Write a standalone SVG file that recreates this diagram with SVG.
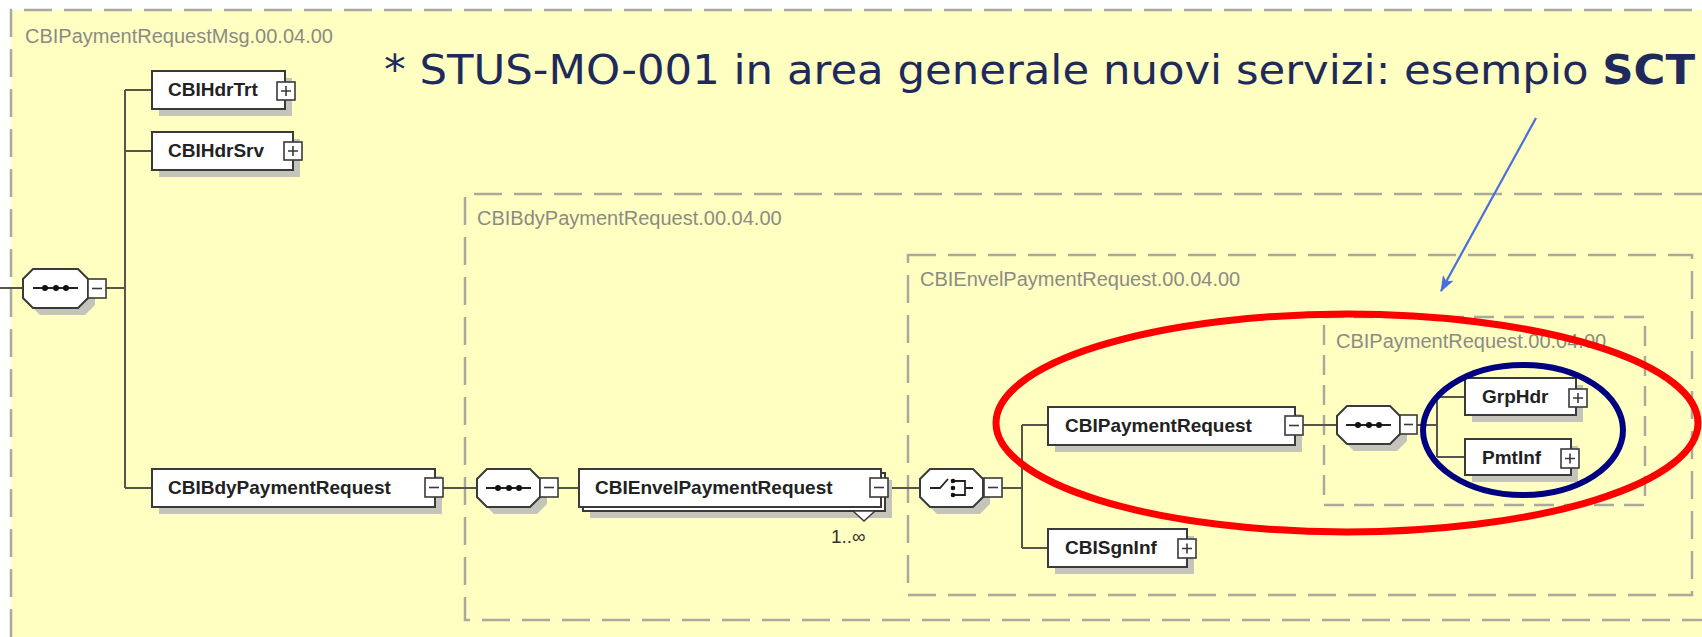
<svg xmlns="http://www.w3.org/2000/svg" width="1702" height="637" viewBox="0 0 1702 637">
<defs>
<style>
.bx{fill:#fff;stroke:#3a3a3a;stroke-width:2}
.sh{fill:#c4c4bb}
.ex{fill:#fff;stroke:#3a3a3a;stroke-width:1.6}
.el{stroke:#3a3a3a;stroke-width:1.6;fill:none}
.nt{font-family:"Liberation Sans",Arial,sans-serif;font-weight:bold;font-size:19px;fill:#222}
.fr{fill:none;stroke:#aba99e;stroke-width:2.5;stroke-dasharray:28 12}
.fr2{fill:none;stroke:#aba99e;stroke-width:2.5;stroke-dasharray:20 10}
.fl{font-family:"Liberation Sans",Arial,sans-serif;font-size:20px;fill:#8b8b85}
.cn{stroke:#55554a;stroke-width:2;fill:none}
.gl{stroke:#222;stroke-width:1.8;fill:none}
.dot{fill:#111}
</style>
<marker id="ah" viewBox="0 0 16 12" refX="15" refY="6" markerWidth="16" markerHeight="12" orient="auto" markerUnits="userSpaceOnUse">
<path d="M0,0 L16,6 L0,12 L4,6 z" fill="#4a6fdc"/>
</marker>
</defs>
<rect x="0" y="0" width="1702" height="637" fill="#ffffff"/>
<rect x="11" y="10" width="1691" height="627" fill="#ffffc1"/>

<g id="frames">
<path class="fr" d="M11,637 V10 H1702"/>
<text class="fl" x="25" y="43">CBIPaymentRequestMsg.00.04.00</text>
<path class="fr" d="M1702,194 H465 V620 H1702"/>
<text class="fl" x="477" y="225">CBIBdyPaymentRequest.00.04.00</text>
<rect class="fr" x="908" y="255" width="784" height="340"/>
<text class="fl" x="920" y="286">CBIEnvelPaymentRequest.00.04.00</text>
<rect class="fr2" x="1324" y="317" width="321" height="188"/>
<text class="fl" x="1336" y="348">CBIPaymentRequest.00.04.00</text>
</g>

<g id="connectors">
<path class="cn" d="M0,288 H23"/>
<path class="cn" d="M106,288 H125"/>
<path class="cn" d="M125,90 V488"/>
<path class="cn" d="M125,90 H152 M125,151 H152 M125,488 H152"/>
<path class="cn" d="M443,488 H477"/>
<path class="cn" d="M558,488 H579"/>
<path class="cn" d="M888,488 H920"/>
<path class="cn" d="M1002,488 H1022 M1022,425 V548 M1022,425 H1048 M1022,548 H1048"/>
<path class="cn" d="M1303,425 H1337"/>
<path class="cn" d="M1417,425 H1437 M1437,397 V457 M1437,397 H1465 M1437,457 H1465"/>
</g>

<g id="seq1">
<polygon class="sh" points="40,276 85,276 95,286 95,305 85,315 40,315 30,305 30,286"/>
<polygon class="bx" points="33,269 78,269 88,279 88,298 78,308 33,308 23,298 23,279"/>
<path class="gl" d="M33,288 H78"/>
<circle class="dot" cx="45" cy="288" r="3"/><circle class="dot" cx="56" cy="288" r="3"/><circle class="dot" cx="66" cy="288" r="3"/>
<rect class="ex" x="88" y="279" width="18" height="19"/><path class="el" d="M92,288.5 H102"/>
</g>

<g id="CBIHdrTrt">
<rect class="sh" x="159" y="78" width="133" height="38"/>
<rect class="bx" x="152" y="71" width="133" height="38"/>
<text class="nt" x="168" y="96">CBIHdrTrt</text>
<rect class="ex" x="277" y="82" width="18" height="18"/><path class="el" d="M281,91 H291 M286,86 V96"/>
</g>

<g id="CBIHdrSrv">
<rect class="sh" x="159" y="139" width="141" height="38"/>
<rect class="bx" x="152" y="132" width="141" height="38"/>
<text class="nt" x="168" y="157">CBIHdrSrv</text>
<rect class="ex" x="284" y="142" width="18" height="18"/><path class="el" d="M288,151 H298 M293,146 V156"/>
</g>

<g id="CBIBdyPaymentRequest">
<rect class="sh" x="159" y="476" width="283" height="38"/>
<rect class="bx" x="152" y="469" width="283" height="38"/>
<text class="nt" x="168" y="494">CBIBdyPaymentRequest</text>
<rect class="ex" x="425" y="478" width="18" height="19"/><path class="el" d="M429,487.5 H439"/>
</g>

<g id="seq2">
<polygon class="sh" points="494,476 537,476 547,486 547,504 537,514 494,514 484,504 484,486"/>
<polygon class="bx" points="487,469 530,469 540,479 540,497 530,507 487,507 477,497 477,479"/>
<path class="gl" d="M486,488 H531"/>
<circle class="dot" cx="498" cy="488" r="3"/><circle class="dot" cx="509" cy="488" r="3"/><circle class="dot" cx="519" cy="488" r="3"/>
<rect class="ex" x="540" y="478" width="18" height="19"/><path class="el" d="M544,487.5 H554"/>
</g>

<g id="CBIEnvelPaymentRequest">
<rect class="sh" x="590" y="480" width="302" height="38"/>
<rect class="bx" x="583" y="473" width="302" height="38"/>
<rect class="bx" x="579" y="469" width="302" height="38"/>
<polygon points="853,511 864,521 875,511" fill="#fff" stroke="#3a3a3a" stroke-width="1.5"/>
<text class="nt" x="595" y="494">CBIEnvelPaymentRequest</text>
<rect class="ex" x="870" y="478" width="18" height="19"/><path class="el" d="M874,487.5 H884"/>
<text x="831" y="543" font-family="Liberation Sans, Arial, sans-serif" font-size="19" fill="#333">1..∞</text>
</g>

<g id="choice">
<polygon class="sh" points="937,476 980,476 990,486 990,504 980,514 937,514 927,504 927,486"/>
<polygon class="bx" points="930,469 973,469 983,479 983,497 973,507 930,507 920,497 920,479"/>
<path class="gl" d="M930,488 H940 L948,479 M953,481 H965 V495 H953 M965,488 H973"/>
<circle class="dot" cx="953" cy="481" r="2.3"/><circle class="dot" cx="953" cy="488" r="2.3"/><circle class="dot" cx="953" cy="495" r="2.3"/>
<rect class="ex" x="984" y="478" width="18" height="19"/><path class="el" d="M988,487.5 H998"/>
</g>

<g id="CBIPaymentRequest">
<rect class="sh" x="1055" y="414" width="247" height="38"/>
<rect class="bx" x="1048" y="407" width="247" height="38"/>
<text class="nt" x="1065" y="432">CBIPaymentRequest</text>
<rect class="ex" x="1285" y="416" width="18" height="19"/><path class="el" d="M1289,425.5 H1299"/>
</g>

<g id="CBISgnInf">
<rect class="sh" x="1055" y="536" width="139" height="38"/>
<rect class="bx" x="1048" y="529" width="139" height="38"/>
<text class="nt" x="1065" y="554">CBISgnInf</text>
<rect class="ex" x="1178" y="539" width="18" height="19"/><path class="el" d="M1182,548.5 H1192 M1187,543.5 V553.5"/>
</g>

<g id="seq3">
<polygon class="sh" points="1354,413 1397,413 1407,423 1407,441 1397,451 1354,451 1344,441 1344,423"/>
<polygon class="bx" points="1347,406 1390,406 1400,416 1400,434 1390,444 1347,444 1337,434 1337,416"/>
<path class="gl" d="M1346,425 H1391"/>
<circle class="dot" cx="1358" cy="425" r="3"/><circle class="dot" cx="1369" cy="425" r="3"/><circle class="dot" cx="1379" cy="425" r="3"/>
<rect class="ex" x="1400" y="415" width="17" height="19"/><path class="el" d="M1404,424.5 H1413"/>
</g>

<g id="GrpHdr">
<rect class="sh" x="1472" y="385" width="111" height="37"/>
<rect class="bx" x="1465" y="378" width="111" height="37"/>
<text class="nt" x="1482" y="403">GrpHdr</text>
<rect class="ex" x="1569" y="389" width="18" height="18"/><path class="el" d="M1573,398 H1583 M1578,393 V403"/>
</g>

<g id="PmtInf">
<rect class="sh" x="1472" y="446" width="106" height="36"/>
<rect class="bx" x="1465" y="439" width="106" height="36"/>
<text class="nt" x="1482" y="464">PmtInf</text>
<rect class="ex" x="1561" y="449" width="18" height="19"/><path class="el" d="M1565,458.5 H1575 M1570,453.5 V463.5"/>
</g>

<g id="annotations">
<ellipse cx="1347" cy="423" rx="351" ry="109" fill="none" stroke="#ff0000" stroke-width="7"/>
<ellipse cx="1523" cy="430" rx="100" ry="65" fill="none" stroke="#000080" stroke-width="6"/>
<line x1="1536" y1="118" x2="1441" y2="291" stroke="#4a6fdc" stroke-width="2.2" marker-end="url(#ah)"/>
<text x="384" y="84" font-family="DejaVu Sans, Verdana, sans-serif" font-size="41" fill="#1f2a5c" textLength="1311" lengthAdjust="spacingAndGlyphs">* STUS-MO-001 in area generale nuovi servizi: esempio <tspan font-weight="bold">SCT</tspan></text>
</g>
</svg>
